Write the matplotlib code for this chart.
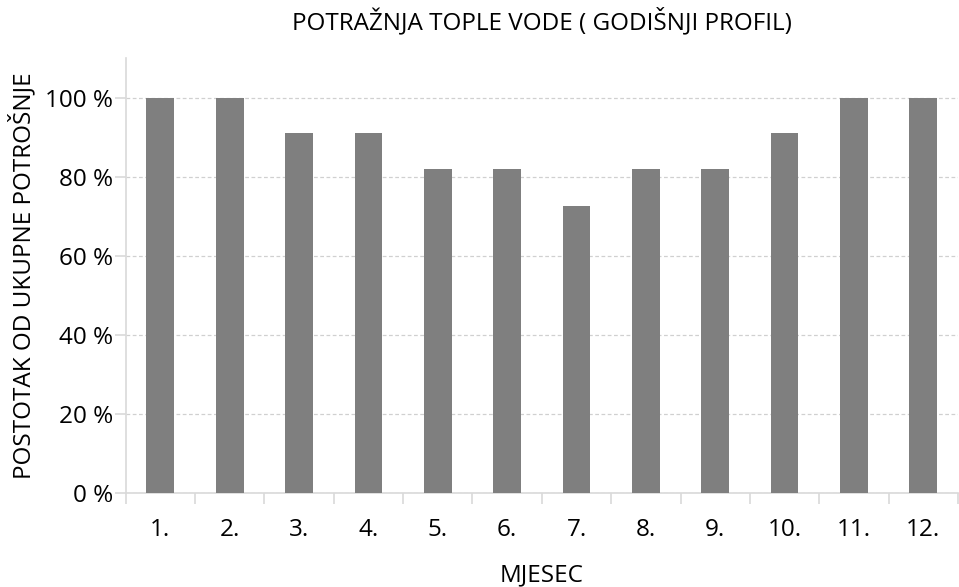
import matplotlib.pyplot as plt
import numpy as np

# godisnji profil potraznje tople vode
mjeseci = ['1.', '2.', '3.', '4.', '5.', '6.', '7.', '8.', '9.', '10.', '11.', '12.']
postotak = [100, 100, 91, 91, 82, 82, 72.5, 82, 82, 91, 100, 100]
y_ticks = [0, 20, 40, 60, 80, 100]

plt.rcParams['font.family'] = ['Open Sans', 'DejaVu Sans']
fs = 17.5

fig = plt.figure(figsize=(9.59, 5.87), dpi=100)
ax = fig.add_axes([0.131, 0.160, 0.868, 0.741])

x = np.arange(len(mjeseci))
ax.bar(x, postotak, width=0.4, color='#7f7f7f', zorder=3)

ax.set_xlim(-0.5, len(mjeseci) - 0.5)
ax.set_ylim(0, 110)
ax.set_yticks(y_ticks)
ax.set_yticklabels(['%d %%' % v for v in y_ticks], fontsize=fs)
ax.yaxis.grid(True, color='#d0d0d0', linestyle=(0, (3, 2)), linewidth=0.9, zorder=0)

# oznake na x osi su izmedu kategorija
ax.set_xticks(np.arange(-0.5, len(mjeseci), 1.0))
ax.set_xticklabels([])
ax.set_xticks(x, minor=True)
ax.set_xticklabels(mjeseci, minor=True, fontsize=fs)
ax.tick_params(axis='x', which='minor', length=0, pad=18)
ax.tick_params(axis='x', which='major', length=8, color='#d9d9d9', width=1.2)
ax.tick_params(axis='y', length=8, color='#d9d9d9', width=1.2, pad=1)

for s in ['top', 'right']:
    ax.spines[s].set_visible(False)
for s in ['left', 'bottom']:
    ax.spines[s].set_color('#d9d9d9')
    ax.spines[s].set_linewidth(1.2)

ax.set_title('POTRAŽNJA TOPLE VODE ( GODIŠNJI PROFIL)', fontsize=fs, pad=21)
ax.set_xlabel('MJESEC', fontsize=fs, labelpad=15)
ax.set_ylabel('POSTOTAK OD UKUPNE POTROŠNJE', fontsize=fs, labelpad=6)

fig.savefig('out.png', dpi=100)
